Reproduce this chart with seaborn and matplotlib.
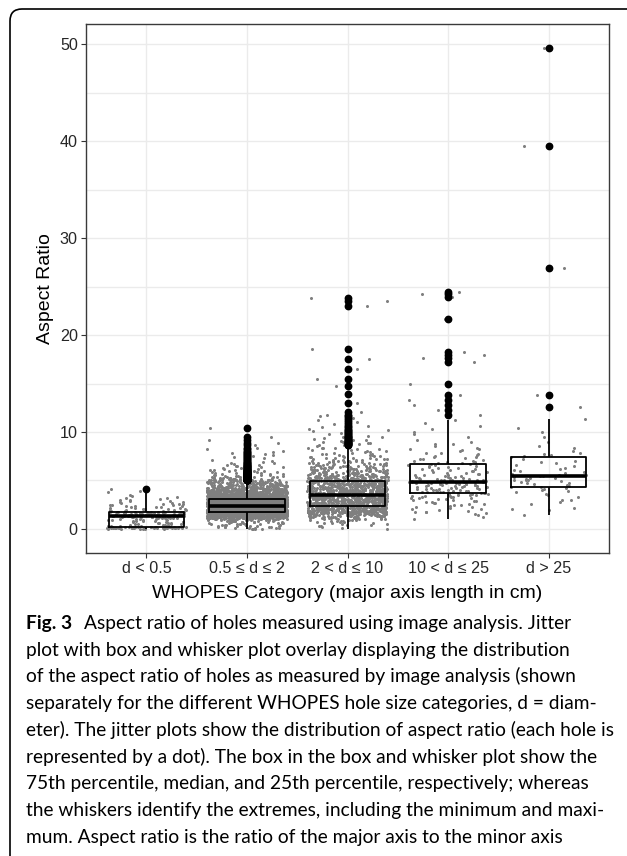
import numpy as np
import pandas as pd
import matplotlib
matplotlib.use("Agg")
import matplotlib.pyplot as plt
import seaborn as sns
from matplotlib.patches import FancyBboxPatch
from matplotlib.transforms import IdentityTransform
from matplotlib.ticker import MultipleLocator

# ---------------- data ----------------
categories = ["d < 0.5", "0.5 ≤ d ≤ 2", "2 < d ≤ 10", "10 < d ≤ 25", "d > 25"]

# (aspect ratio, number of holes)
cat1_hist = [(0.0, 6), (0.1, 24), (0.2, 22), (0.3, 5), (0.4, 4), (0.5, 4), (0.6, 4),
             (0.7, 4), (0.8, 4), (0.9, 4), (1.0, 5), (1.1, 6), (1.2, 8), (1.3, 13),
             (1.4, 12), (1.5, 11), (1.6, 10), (1.7, 6), (1.8, 5), (1.9, 4), (2.0, 4),
             (2.1, 4), (2.2, 3), (2.3, 3), (2.4, 3), (2.5, 3), (2.6, 3), (2.7, 2),
             (2.8, 2), (2.9, 2), (3.0, 2), (3.1, 1), (3.2, 2), (3.3, 1), (3.4, 1),
             (3.5, 1), (3.8, 1), (3.9, 1), (4.1, 1)]

cat2_hist = [(0.0, 4), (0.1, 5), (0.2, 5), (0.3, 5), (0.4, 6), (0.5, 6), (0.6, 6),
             (0.7, 7), (0.8, 8), (0.9, 10), (1.0, 20), (1.1, 40), (1.2, 60), (1.3, 75),
             (1.4, 85), (1.5, 95), (1.6, 100), (1.7, 105), (1.8, 103), (1.9, 122),
             (2.0, 125), (2.1, 127), (2.2, 127), (2.3, 125), (2.4, 122), (2.5, 119),
             (2.6, 114), (2.7, 109), (2.8, 105), (2.9, 101), (3.0, 98), (3.1, 94),
             (3.2, 65), (3.3, 66), (3.4, 61), (3.5, 56), (3.6, 51), (3.7, 46), (3.8, 42),
             (3.9, 38), (4.0, 34), (4.1, 30), (4.2, 27), (4.3, 24), (4.4, 22), (4.5, 19),
             (4.6, 17), (4.7, 15), (4.8, 14), (4.9, 12), (5.0, 11), (5.1, 10), (5.2, 9),
             (5.3, 8), (5.4, 7), (5.5, 6), (5.6, 5), (5.7, 4), (5.8, 4), (5.9, 3),
             (6.0, 3), (6.1, 3), (6.2, 2), (6.3, 2), (6.4, 2), (6.5, 2), (6.6, 2),
             (6.7, 1), (6.8, 2), (6.9, 1), (7.0, 1), (7.1, 1), (7.2, 1), (7.3, 1),
             (7.4, 1), (7.5, 1), (7.6, 1), (7.7, 1), (7.8, 1), (7.9, 1), (8.0, 1),
             (8.2, 1), (8.3, 1), (8.7, 1), (8.9, 1), (9.2, 1), (9.5, 1), (10.4, 1)]

cat3_hist = [(0.0, 1), (0.1, 1), (0.2, 1), (0.3, 2), (0.4, 2), (0.5, 2), (0.6, 3),
             (0.7, 3), (0.8, 4), (0.9, 5), (1.0, 7), (1.1, 9), (1.2, 10), (1.3, 13),
             (1.4, 15), (1.5, 18), (1.6, 20), (1.7, 22), (1.8, 24), (1.9, 26), (2.0, 27),
             (2.1, 28), (2.2, 29), (2.3, 30), (2.4, 27), (2.5, 27), (2.6, 27), (2.7, 26),
             (2.8, 26), (2.9, 25), (3.0, 25), (3.1, 24), (3.2, 24), (3.3, 23), (3.4, 23),
             (3.5, 33), (3.6, 17), (3.7, 24), (3.8, 24), (3.9, 24), (4.0, 23), (4.1, 23),
             (4.2, 23), (4.3, 22), (4.4, 22), (4.5, 22), (4.6, 22), (4.7, 21), (4.8, 21),
             (4.9, 20), (5.0, 19), (5.1, 18), (5.2, 17), (5.3, 16), (5.4, 15), (5.5, 14),
             (5.6, 13), (5.7, 12), (5.8, 11), (5.9, 10), (6.0, 10), (6.1, 9), (6.2, 8),
             (6.3, 8), (6.4, 7), (6.5, 7), (6.6, 6), (6.7, 6), (6.8, 5), (6.9, 5),
             (7.0, 5), (7.1, 4), (7.2, 4), (7.3, 4), (7.4, 3), (7.5, 3), (7.6, 3),
             (7.7, 3), (7.8, 2), (7.9, 2), (8.0, 2), (8.1, 2), (8.2, 2), (8.3, 2),
             (8.4, 2), (8.6, 2), (8.7, 2), (8.8, 2), (8.9, 2), (9.0, 2), (9.1, 1),
             (9.2, 2), (9.3, 1), (9.4, 1), (9.5, 2), (9.6, 1), (9.7, 1), (9.8, 1),
             (9.9, 1), (10.0, 1), (10.1, 1), (10.2, 1), (10.3, 1), (10.5, 1), (10.6, 1),
             (10.8, 1), (11.0, 1), (11.2, 1), (11.4, 1), (11.6, 1), (11.8, 1), (12.1, 1),
             (13.0, 1), (13.9, 1), (14.7, 1), (15.5, 1), (16.5, 1), (17.5, 1), (18.6, 1),
             (23.0, 1), (23.5, 1), (23.8, 1)]

cat4_hist = [(1.0, 1), (1.2, 1), (1.4, 1), (1.5, 1), (1.6, 1), (1.7, 1), (1.8, 2),
             (1.9, 1), (2.0, 1), (2.1, 2), (2.2, 1), (2.3, 2), (2.4, 1), (2.5, 2),
             (2.6, 2), (2.7, 2), (2.8, 2), (2.9, 2), (3.0, 2), (3.1, 2), (3.2, 3),
             (3.3, 3), (3.4, 3), (3.5, 3), (3.6, 3), (3.7, 5), (3.8, 4), (3.9, 4),
             (4.0, 4), (4.1, 4), (4.2, 4), (4.3, 4), (4.4, 4), (4.5, 4), (4.6, 4),
             (4.7, 4), (4.8, 9), (4.9, 3), (5.0, 3), (5.1, 3), (5.2, 3), (5.3, 3),
             (5.4, 3), (5.5, 2), (5.6, 3), (5.7, 2), (5.8, 2), (5.9, 2), (6.0, 2),
             (6.1, 2), (6.2, 2), (6.3, 2), (6.4, 2), (6.5, 2), (6.6, 2), (6.7, 2),
             (6.8, 2), (6.9, 2), (7.0, 2), (7.1, 1), (7.2, 2), (7.3, 1), (7.4, 2),
             (7.5, 1), (7.6, 1), (7.7, 1), (7.8, 2), (8.0, 1), (8.1, 1), (8.2, 2),
             (8.4, 1), (8.6, 1), (8.8, 2), (9.0, 1), (9.2, 1), (9.5, 1), (9.8, 1),
             (10.0, 1), (10.3, 1), (10.6, 1), (10.9, 1), (11.2, 1), (11.8, 1), (12.3, 1),
             (12.8, 1), (13.3, 1), (13.8, 1), (15.0, 1), (17.2, 1), (17.6, 1), (17.9, 1),
             (18.2, 1), (21.7, 1), (23.9, 1), (24.2, 1), (24.4, 1)]

cat5_values = [1.45, 2.0, 2.1, 2.2, 2.6, 2.8, 3.0, 3.0, 3.3, 3.5, 3.6, 3.8, 3.9, 4.0,
               4.1, 4.2, 4.3, 4.35, 4.4, 4.5, 4.6, 4.7, 4.75, 4.8, 4.9, 5.0, 5.05, 5.1,
               5.2, 5.25, 5.3, 5.4, 5.45, 5.5, 5.55, 5.6, 5.7, 5.8, 5.9, 6.0, 6.1, 6.2,
               6.3, 6.5, 6.6, 6.8, 6.9, 7.0, 7.2, 7.4, 7.5, 7.6, 7.7, 7.8, 8.0, 8.3,
               8.6, 9.0, 9.5, 10.0, 10.4, 11.38, 12.6, 13.8, 26.9, 39.5, 49.6]

y_ticks = [0, 10, 20, 30, 40, 50]
x_title = "WHOPES Category (major axis length in cm)"
y_title = "Aspect Ratio"

caption_label = "Fig. 3"
caption_first = "Aspect ratio of holes measured using image analysis. Jitter"
caption_lines = [
    "plot with box and whisker plot overlay displaying the distribution",
    "of the aspect ratio of holes as measured by image analysis (shown",
    "separately for the different WHOPES hole size categories, d = diam-",
    "eter). The jitter plots show the distribution of aspect ratio (each hole is",
    "represented by a dot). The box in the box and whisker plot show the",
    "75th percentile, median, and 25th percentile, respectively; whereas",
    "the whiskers identify the extremes, including the minimum and maxi-",
    "mum. Aspect ratio is the ratio of the major axis to the minor axis",
]


def expand(hist):
    return [v for v, n in hist for _ in range(n)]


groups = [expand(cat1_hist), expand(cat2_hist), expand(cat3_hist),
          expand(cat4_hist), list(cat5_values)]
df = pd.concat(
    [pd.DataFrame({"category": c, "aspect_ratio": vals}) for c, vals in zip(categories, groups)],
    ignore_index=True)

# ---------------- figure ----------------
plt.rcParams["font.family"] = ["Liberation Sans", "DejaVu Sans"]
W, H = 627, 856
fig = plt.figure(figsize=(W / 100, H / 100), dpi=100)
fig.patch.set_facecolor("white")
ax = fig.add_axes([86 / W, 1 - 553 / H, (609 - 86) / W, (553 - 24) / H])

np.random.seed(11)
sns.stripplot(data=df, x="category", y="aspect_ratio", order=categories,
              jitter=0.4, size=2.2, color="#7f7f7f", linewidth=0, ax=ax)
n_coll = len(ax.collections)
sns.boxplot(data=df, x="category", y="aspect_ratio", order=categories,
            width=0.75, fill=False, color="black", linewidth=1.3, whis=1.5,
            showcaps=False, fliersize=4.6,
            flierprops=dict(marker="o", markerfacecolor="black",
                            markeredgecolor="black", markersize=4.6),
            medianprops=dict(linewidth=2.6, color="black"), ax=ax)

# jitter cloud below, box-and-whisker overlay on top
for c in ax.collections[:n_coll]:
    c.set_zorder(1.5)
for ln in ax.lines:
    ln.set_zorder(4)
for p in ax.patches:
    p.set_zorder(4)
for c in ax.collections[n_coll:]:
    c.set_zorder(4)

ax.set_xlim(-0.6, 4.6)
ax.set_ylim(-2.48, 52.08)
ax.set_yticks(y_ticks)
ax.set_yticklabels([str(t) for t in y_ticks])
ax.yaxis.set_minor_locator(MultipleLocator(5))
ax.set_axisbelow(True)
ax.grid(True, which="major", color="#EBEBEB", linewidth=1.0)
ax.grid(True, which="minor", axis="y", color="#EBEBEB", linewidth=1.0)
ax.tick_params(which="minor", length=0)
ax.tick_params(which="major", length=3.3, width=0.8, color="#333333",
               labelsize=11.6, labelcolor="#262626", pad=2.6,
               bottom=True, left=True)
for s in ax.spines.values():
    s.set_visible(True)
    s.set_color("#3a3a3a")
    s.set_linewidth(1.0)
    s.set_zorder(5)

ax.set_xlabel(x_title, fontsize=14, color="black")
ax.set_ylabel(y_title, fontsize=14, color="black")
ax.xaxis.set_label_coords(0.5, (553 - 585) / 529)
ax.yaxis.set_label_coords((54 - 86) / 523, 0.5)

# ---------------- outer frame ----------------
frame = FancyBboxPatch((10, -60), 800, (H - 9) + 60,
                       boxstyle="round,pad=0,rounding_size=12",
                       transform=IdentityTransform(), fill=False,
                       edgecolor="black", linewidth=1.2, clip_on=False)
fig.add_artist(frame)

# ---------------- caption ----------------
cap_font = ["Lato", "DejaVu Sans"]
renderer = fig.canvas.get_renderer()
base = 14.0
baselines = [629 + 26.7 * i for i in range(9)]
x0 = 26
gap = 12
t_label = fig.text(x0 / W, 1 - baselines[0] / H, caption_label, fontsize=base,
                   fontweight="bold", family=cap_font, va="baseline", ha="left")
t_first = fig.text(0, 1 - baselines[0] / H, caption_first, fontsize=base,
                   family=cap_font, va="baseline", ha="left")
t_rest = [fig.text(x0 / W, 1 - b / H, s, fontsize=base, family=cap_font,
                   va="baseline", ha="left")
          for s, b in zip(caption_lines, baselines[1:])]

targets = [578, 578, 584, 588, 616, 604, 591, 604, 566]
meas = [t_label.get_window_extent(renderer).width + gap + t_first.get_window_extent(renderer).width]
meas += [t.get_window_extent(renderer).width for t in t_rest]
tw = [t - x0 for t in targets]
scale = sum(tw) / sum(meas)
size = base * scale
for t in [t_label, t_first] + t_rest:
    t.set_fontsize(size)
wl = t_label.get_window_extent(renderer).width
t_first.set_x((x0 + wl + gap) / W)

fig.savefig("out.png", dpi=100)
